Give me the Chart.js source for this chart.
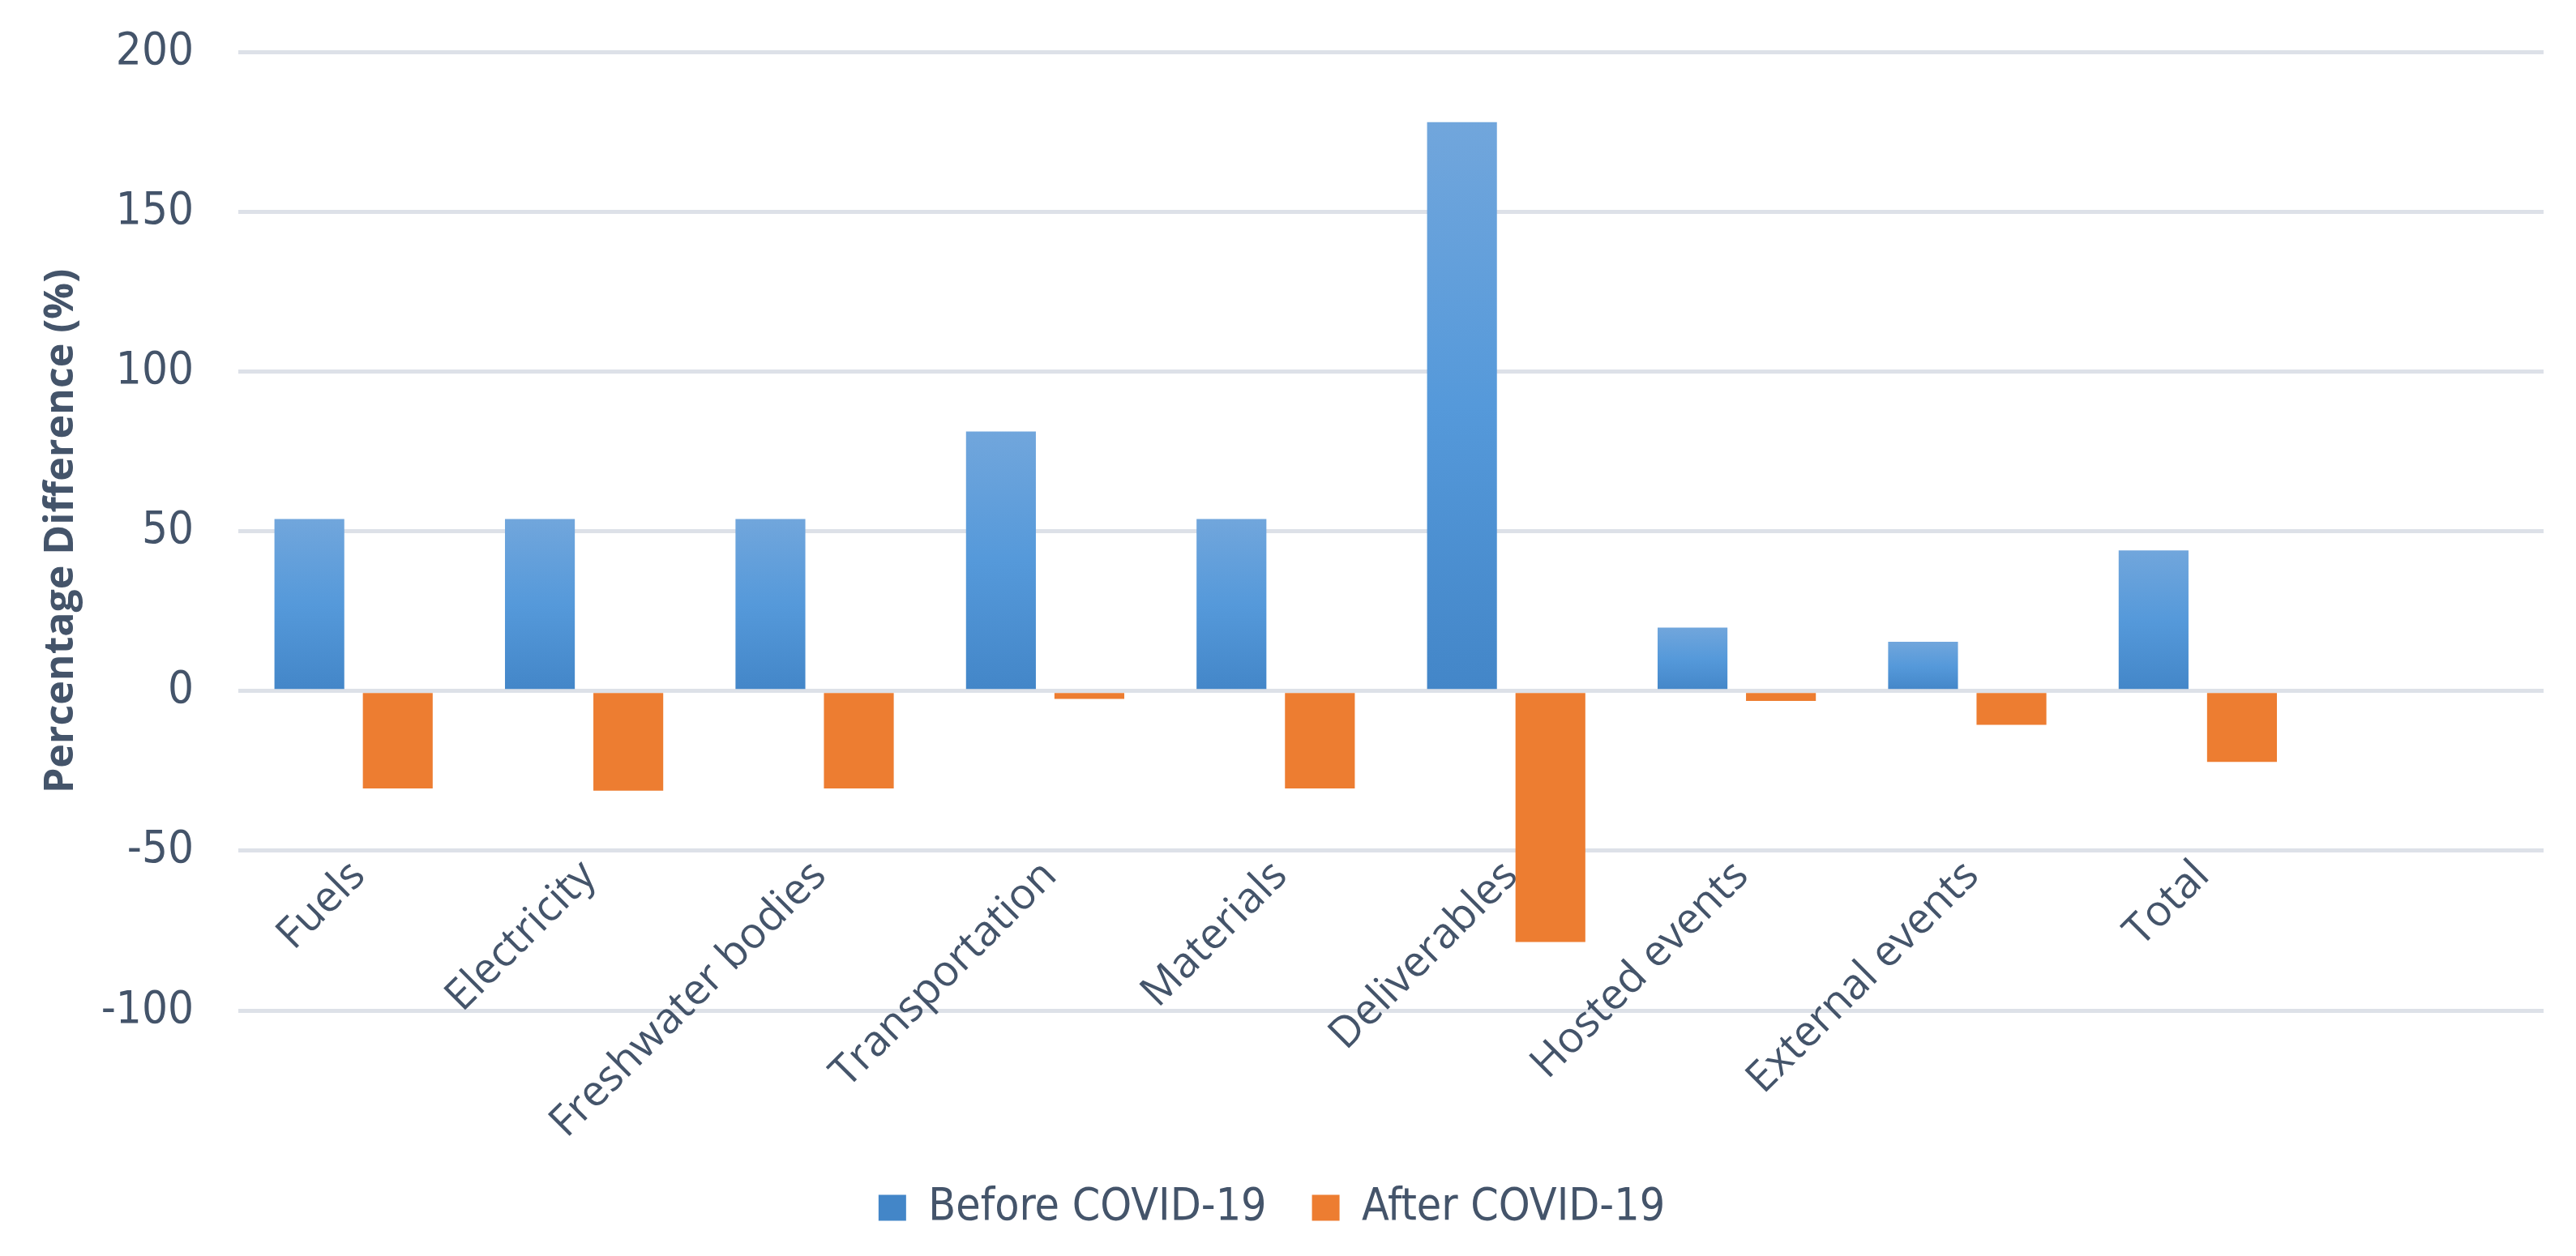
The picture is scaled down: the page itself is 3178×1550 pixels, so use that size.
<!DOCTYPE html>
<html>
<head>
<meta charset="utf-8">
<script src="https://cdn.jsdelivr.net/npm/chart.js@4.4.1/dist/chart.umd.min.js"></script>
<style>
    html, body { margin: 0; padding: 0; background: #ffffff; }
    #covid-chart { display: block; }
</style>
</head>
<body>
<canvas id="covid-chart" width="3178" height="1550"></canvas>
<script>
// --- Chart data ---
const categories = ['Fuels', 'Electricity', 'Freshwater bodies', 'Transportation', 'Materials',
    'Deliverables', 'Hosted events', 'External events', 'Total', ''];
const beforeCovid = [53.8, 53.8, 53.8, 81.2, 53.8, 178, 19.8, 15.4, 44, null];
const afterCovid = [-30.5, -31.2, -30.5, -2.5, -30.5, -78.6, -3.1, -10.6, -22.2, null];
const yTicks = [-100, -50, 0, 50, 100, 150, 200];

const textColor = '#44546A';
const gridColor = '#DDE1E8';

document.addEventListener('DOMContentLoaded', () => {
    const ctx = document.getElementById('covid-chart').getContext('2d');

    // Excel-like vertical gradient on the blue bars
    const blueFill = (context) => {
        const { chart, dataIndex, dataset } = context;
        const { chartArea, scales } = chart;
        if (!chartArea || dataIndex === undefined || dataset.data[dataIndex] == null) {
            return '#5B9BD5';
        }
        const top = scales.y.getPixelForValue(dataset.data[dataIndex]);
        const bottom = scales.y.getPixelForValue(0);
        const g = chart.ctx.createLinearGradient(0, top, 0, bottom);
        g.addColorStop(0, '#71A6DC');
        g.addColorStop(0.5, '#5599DA');
        g.addColorStop(1, '#4386C8');
        return g;
    };

    new Chart(ctx, {
        type: 'bar',
        data: {
            labels: categories,
            datasets: [{
                label: 'Before COVID-19',
                data: beforeCovid,
                backgroundColor: blueFill,
                categoryPercentage: 0.767,
                barPercentage: 0.79
            }, {
                label: 'After COVID-19',
                data: afterCovid,
                backgroundColor: '#ED7D31',
                categoryPercentage: 0.767,
                barPercentage: 0.79
            }]
        },
        options: {
            responsive: false,
            devicePixelRatio: 1,
            animation: false,
            layout: { padding: { top: 64, right: 40, bottom: 22, left: 0 } },
            plugins: {
                tooltip: { enabled: false },
                legend: {
                    position: 'bottom',
                    // empty title only pushes the legend row down
                    title: { display: true, text: ' ', font: { size: 10 }, padding: { top: 148, bottom: 0 } },
                    labels: {
                        color: textColor,
                        font: { family: '"Liberation Sans Narrow", "DejaVu Sans Condensed", sans-serif', size: 55 },
                        boxWidth: 34,
                        boxHeight: 32,
                        padding: 56,
                        generateLabels: (chart) => Chart.defaults.plugins.legend.labels.generateLabels(chart)
                            .map(item => ({ ...item, lineWidth: 0 }))
                    }
                }
            },
            scales: {
                x: {
                    position: { y: -50 },
                    grid: { display: false },
                    border: { display: false },
                    ticks: {
                        autoSkip: false,
                        minRotation: 45,
                        maxRotation: 45,
                        padding: -8,
                        labelOffset: 6,
                        color: textColor,
                        font: { family: '"Open Sans", sans-serif', size: 53 }
                    }
                },
                y: {
                    min: -100,
                    max: 200,
                    afterBuildTicks: (scale) => { scale.ticks = yTicks.map(v => ({ value: v })); },
                    afterFit: (scale) => { scale.width = 294; },
                    // invisible tick marks give the gap between labels and plot
                    grid: { color: gridColor, lineWidth: 5, drawTicks: true, tickLength: 45, tickColor: 'rgba(0,0,0,0)' },
                    border: { display: false },
                    ticks: {
                        padding: 10,
                        color: textColor,
                        font: { family: '"Liberation Sans Narrow", "DejaVu Sans Condensed", sans-serif', size: 56 }
                    },
                    title: {
                        display: true,
                        text: 'Percentage Difference (%)',
                        color: textColor,
                        padding: { top: 46, bottom: 0 },
                        font: { family: '"Open Sans", sans-serif', size: 50, weight: 'bold' }
                    }
                }
            }
        }
    });
});
</script>
</body>
</html>
